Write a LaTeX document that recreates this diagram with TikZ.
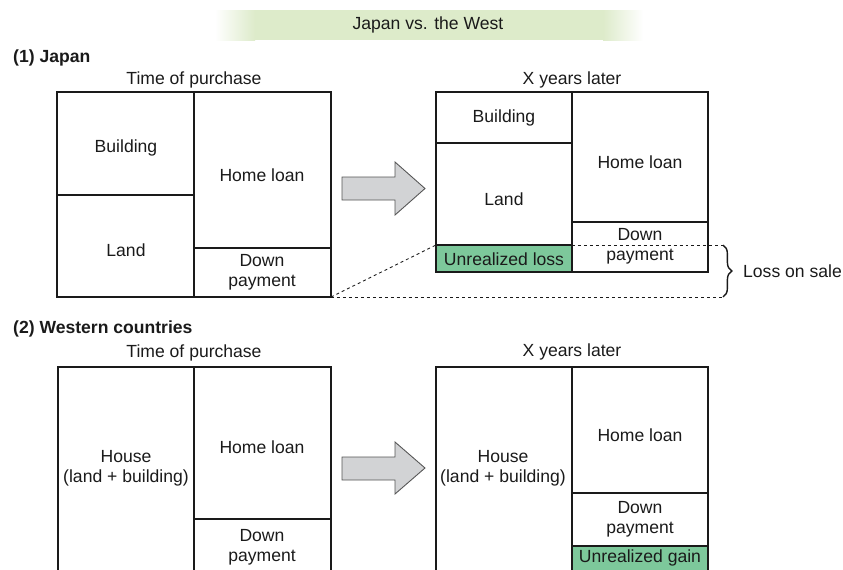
\documentclass[tikz,border=0pt]{standalone}
\usepackage{fontspec}
\setmainfont{Liberation Sans}
\setsansfont{Liberation Sans}
\usetikzlibrary{decorations.pathreplacing}
\definecolor{inkdark}{HTML}{1A1A1A}
\definecolor{bannergreen}{HTML}{DDEBCA}
\definecolor{gaingreen}{HTML}{7DC89B}
\definecolor{arrowgray}{HTML}{D2D3D5}
\definecolor{arrowedge}{HTML}{555555}

\begin{document}
\begin{tikzpicture}[
  x=0.02cm,y=-0.02cm,
  every node/.style={font=\sffamily\fontsize{10}{11.2}\selectfont,text=inkdark},
  frame/.style={draw=inkdark,line width=1.15pt},
  divider/.style={draw=inkdark,line width=0.6pt},
  cell/.style={align=center},
  head/.style={font=\sffamily\bfseries\fontsize{10}{11.2}\selectfont,anchor=west},
  guide/.style={draw=inkdark,line width=0.5pt,dash pattern=on 1.7pt off 1.7pt},
  blockarrow/.style={fill=arrowgray,draw=arrowedge,line width=0.5pt}
]

% ---- canvas (843 x 569, lower boxes run off the bottom edge) ----
\useasboundingbox (0,0) rectangle (843,569);
\clip (0,0) rectangle (843,569);

% ---- title banner ----
\fill[bannergreen] (254,10) rectangle (604,40);
\shade[left color=white,right color=bannergreen] (215,10) rectangle (255,40);
\shade[left color=bannergreen,right color=white] (603,10) rectangle (643,40);
\node (title) at (428,25) {Japan vs. the West};

% ================= (1) Japan =================
\node[head] (headjp) at (7,58) {(1) Japan};

% ---- time of purchase ----
\node (tpjp) at (194,80) {Time of purchase};
\draw[divider] (194,92) -- (194,297);
\draw[divider] (57,195) -- (194,195);
\draw[divider] (194,248) -- (331,248);
\draw[frame] (57,92) rectangle (331,297);
\node[cell] (bldjp) at (126,148) {Building};
\node[cell] (landjp) at (126,250) {Land};
\node[cell] (loanjp) at (262,175) {Home loan};
\node[cell] (downjp) at (262,272) {Down\\payment};

% ---- arrow ----
\draw[blockarrow] (342,177) -- (395,177) -- (395,162) -- (425,188.5)
  -- (395,215) -- (395,200) -- (342,200) -- cycle;

% ---- X years later ----
\node (xyjp) at (572,80) {X years later};
\fill[gaingreen] (436,245) rectangle (572,272);
\draw[divider] (572,92) -- (572,272);
\draw[divider] (436,143) -- (572,143);
\draw[divider] (436,245) -- (572,245);
\draw[divider] (572,222) -- (708,222);
\draw[frame] (436,92) rectangle (708,272);
\node[cell] (bldlater) at (504,118) {Building};
\node[cell] (landlater) at (504,199) {Land};
\node[cell] (lossjp) at (504,259) {Unrealized loss};
\node[cell] (loanlater) at (640,162) {Home loan};
\node[cell] (downlater) at (640,246) {Down\\payment};

% ---- loss on sale guides ----
\coordinate (oldcorner) at (331,297);
\coordinate (losstop) at (436,245);
\coordinate (gapleft) at (572,245);
\coordinate (bracetop) at (723,245);
\coordinate (bracebot) at (723,297);
\draw[guide] (oldcorner) -- (losstop);
\draw[guide] (oldcorner) -- (bracebot);
\draw[guide] (gapleft) -- (bracetop);
\draw[decorate,decoration={brace,amplitude=5pt},inkdark,line width=0.8pt]
  (bracetop) -- (bracebot);
\node[anchor=west] (losssale) at (737,271) {Loss on sale};

% ================= (2) Western countries =================
\node[head] (headwest) at (7,329) {(2) Western countries};

% ---- time of purchase ----
\node (tpwest) at (194,353) {Time of purchase};
\draw[divider] (194,367) -- (194,580);
\draw[divider] (194,519) -- (331,519);
\draw[frame] (58,367) rectangle (331,580);
\node[cell] (housewest) at (126,468) {House\\(land + building)};
\node[cell] (loanwest) at (262,447) {Home loan};
\node[cell] (downwest) at (262,547) {Down\\payment};

% ---- arrow ----
\draw[blockarrow] (342,457) -- (395,457) -- (395,442) -- (425,468)
  -- (395,494) -- (395,480) -- (342,480) -- cycle;

% ---- X years later ----
\node (xywest) at (572,352) {X years later};
\fill[gaingreen] (572,546) rectangle (708,580);
\draw[divider] (572,367) -- (572,580);
\draw[divider] (572,493) -- (708,493);
\draw[divider] (572,546) -- (708,546);
\draw[frame] (436,367) rectangle (708,580);
\node[cell] (houselater) at (503,468) {House\\(land + building)};
\node[cell] (loanwlater) at (640,435) {Home loan};
\node[cell] (downwlater) at (640,519) {Down\\payment};
\node[cell] (gainwest) at (640,558) {Unrealized gain};

\end{tikzpicture}
\end{document}
